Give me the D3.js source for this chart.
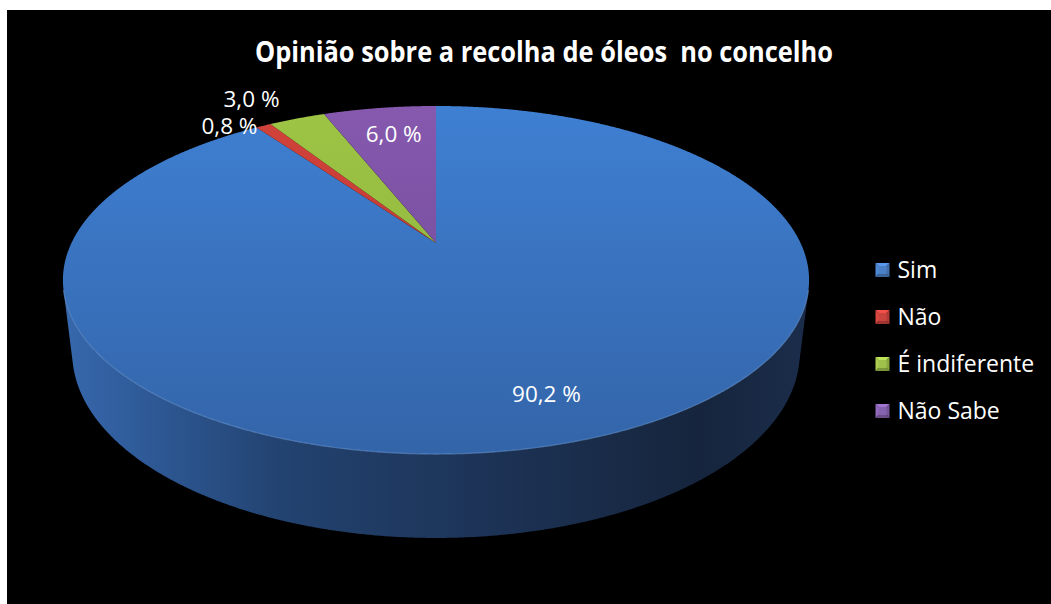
<!DOCTYPE html>
<html>
<head>
<meta charset="utf-8">
<script src="https://cdn.jsdelivr.net/npm/d3@7"></script>
<style>
  html, body { margin: 0; padding: 0; background: #ffffff; }
  svg { display: block; }
  .title { white-space: pre; }
</style>
</head>
<body>
<svg id="chart" width="1051" height="604"></svg>
<script>
// ---- data ----
const chartTitle = "Opinião sobre a recolha de óleos  no concelho";
const categories = ["Sim", "Não", "É indiferente", "Não Sabe"];
const percentages = [90.2, 0.8, 3.0, 6.0];
const valueLabels = ["90,2 %", "0,8 %", "3,0 %", "6,0 %"];

// ---- styling ----
const topColors = [
  ["#3f80d3", "#3364a8"],
  ["#d2443c", "#b32f2a"],
  ["#9fc546", "#87ac38"],
  ["#8659ae", "#6c4794"]
];
const legendColors = ["#4a80c6", "#cb433d", "#9fc04b", "#8762af"];
// label placement: relative radius on the disc, text anchor and a small pixel nudge
const labelPlacement = [
  { r: 0.80, anchor: "middle", dx: 5, dy: 0 },
  { r: 1.00, anchor: "end", dx: -6, dy: 0 },
  { r: 1.17, anchor: "end", dx: 2, dy: -2 },
  { r: 0.77, anchor: "middle", dx: 3, dy: -1 }
];

const svg = d3.select("#chart");
const W = 1051, H = 604;

// black chart area
svg.append("rect").attr("x", 7).attr("y", 10).attr("width", W - 7).attr("height", H - 10).attr("fill", "#000");

// ---- perspective projection of a disc lying flat, seen from above ----
const cx = 436, cy = 243;
const sinE = 0.4558, cosE = Math.sqrt(1 - sinE * sinE);
const D0 = 4.186, F = 1526;
const thickness = 0.226;

function project(theta, r, y) {
  const X = r * Math.sin(theta);
  const Z = r * Math.cos(theta);
  const depth = D0 + Z * cosE - y * sinE;
  return [cx + F * X / depth, cy - F * (y * cosE + Z * sinE) / depth];
}

const pie = d3.pie().sort(null).value(d => d.value).startAngle(0).endAngle(2 * Math.PI);
const rows = categories.map((c, i) => ({ name: c, value: percentages[i], label: valueLabels[i], idx: i }));
const arcs = pie(rows);

const defs = svg.append("defs");

// gradients for the slice tops
topColors.forEach((cols, i) => {
  const g = defs.append("linearGradient").attr("id", "top" + i)
    .attr("gradientUnits", "userSpaceOnUse")
    .attr("x1", 0).attr("y1", 100).attr("x2", 0).attr("y2", 460);
  g.append("stop").attr("offset", 0).attr("stop-color", cols[0]);
  g.append("stop").attr("offset", 1).attr("stop-color", cols[1]);
});

// gradient for the visible rim
const sideGrad = defs.append("linearGradient").attr("id", "side")
  .attr("gradientUnits", "userSpaceOnUse")
  .attr("x1", 63).attr("y1", 0).attr("x2", 810).attr("y2", 0);
[[0, "#3768ad"], [0.1, "#2f5b99"], [0.3, "#22426f"], [0.55, "#1d3458"], [0.85, "#16253d"], [1, "#1b2d4b"]]
  .forEach(([o, c]) => sideGrad.append("stop").attr("offset", o).attr("stop-color", c));

const line = d3.line();
const step = Math.PI / 720;

function sampleAngles(a0, a1) {
  const n = Math.max(2, Math.ceil((a1 - a0) / step));
  return d3.range(n + 1).map(i => a0 + (a1 - a0) * i / n);
}

// rim is visible where the outer wall faces the viewer
const visLimit = Math.acos(-1 / (D0 * cosE));
const visMin = visLimit, visMax = 2 * Math.PI - visLimit;

const sideG = svg.append("g");
arcs.forEach(a => {
  const t0 = Math.max(a.startAngle, visMin), t1 = Math.min(a.endAngle, visMax);
  if (t1 <= t0) return;
  const angs = sampleAngles(t0, t1);
  const pts = angs.map(t => project(t, 1, 0))
    .concat(angs.slice().reverse().map(t => project(t, 1, -thickness)));
  sideG.append("path").attr("d", line(pts) + "Z").attr("fill", "url(#side)");
});

// slice tops
const topG = svg.append("g");
topG.selectAll("path").data(arcs).join("path")
  .attr("d", a => {
    const pts = [project(0, 0, 0)].concat(sampleAngles(a.startAngle, a.endAngle).map(t => project(t, 1, 0)));
    return line(pts) + "Z";
  })
  .attr("fill", a => `url(#top${a.data.idx})`);

// soft highlight along the front edge of the top face
svg.append("path")
  .attr("d", line(sampleAngles(visMin, visMax).map(t => project(t, 1, 0))))
  .attr("fill", "none").attr("stroke", "#6d9ddb").attr("stroke-opacity", 0.55).attr("stroke-width", 1.2);

// value labels
svg.append("g").selectAll("text").data(arcs).join("text")
  .each(function (a) {
    const p = labelPlacement[a.data.idx];
    const mid = (a.startAngle + a.endAngle) / 2;
    const [x, y] = project(mid, p.r, 0);
    d3.select(this).attr("x", x + p.dx).attr("y", y + p.dy).attr("dy", "0.36em").attr("text-anchor", p.anchor);
  })
  .attr("font-family", "'Open Sans', 'Noto Sans', sans-serif")
  .attr("font-size", 22.5)
  .attr("fill", "#ffffff")
  .text(a => a.data.label);

// legend
const legendY = d3.scalePoint().domain(categories).range([270, 411]);
const lg = svg.append("g");
categories.forEach((c, i) => {
  const s = 14, x = 875.5, y = legendY(c) - s / 2;
  const base = d3.color(legendColors[i]);
  const g = lg.append("g");
  const cxm = x + s / 2, cym = y + s / 2;
  const tri = (pts, col) => g.append("path").attr("d", line(pts) + "Z").attr("fill", col);
  tri([[x, y], [x + s, y], [cxm, cym]], base.brighter(0.5));
  tri([[x, y], [x, y + s], [cxm, cym]], base.brighter(0.2));
  tri([[x + s, y], [x + s, y + s], [cxm, cym]], base.darker(0.4));
  tri([[x, y + s], [x + s, y + s], [cxm, cym]], base.darker(0.7));
  g.append("rect").attr("x", x + 3).attr("y", y + 3).attr("width", s - 6).attr("height", s - 6).attr("fill", base);
  lg.append("text")
    .attr("x", 897.5).attr("y", legendY(c) + 7.8)
    .attr("font-family", "'Open Sans', 'Noto Sans', sans-serif")
    .attr("font-size", 23)
    .attr("fill", "#ffffff")
    .text(c);
});

// title
svg.append("text")
  .attr("class", "title")
  .attr("x", 544).attr("y", 62)
  .attr("text-anchor", "middle")
  .attr("font-family", "'Liberation Sans Narrow', 'Open Sans', sans-serif")
  .attr("font-weight", "bold")
  .attr("font-size", 28)
  .attr("fill", "#ffffff")
  .attr("textLength", 578)
  .attr("lengthAdjust", "spacingAndGlyphs")
  .text(chartTitle);
</script>
</body>
</html>
